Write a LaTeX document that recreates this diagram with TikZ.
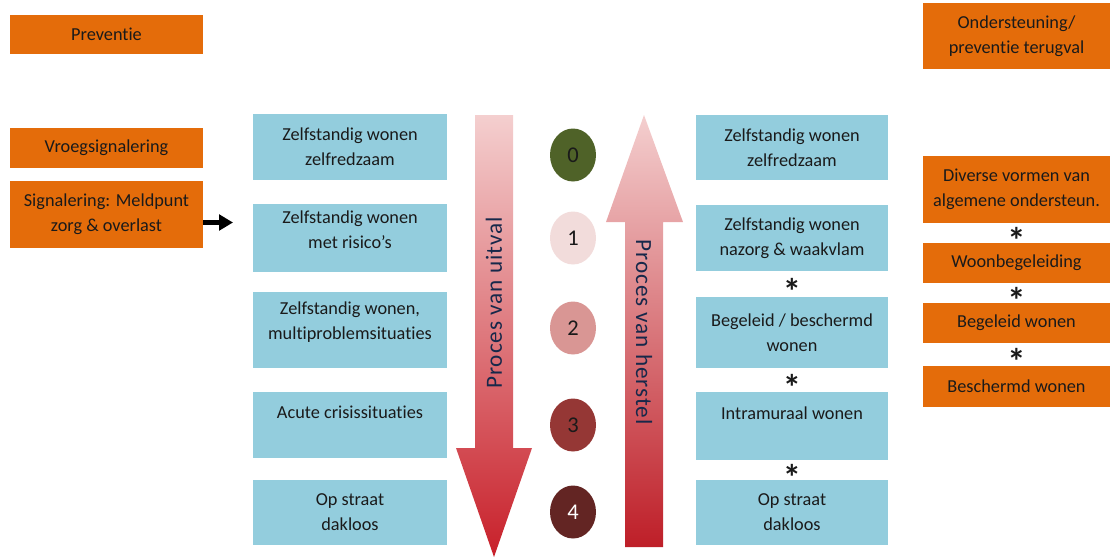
\documentclass[tikz,border=0pt]{standalone}
\usepackage{fontspec}
\setmainfont{Carlito}[Ligatures=NoCommon]
\newfontfamily\procesfont[LetterSpace=4,Ligatures=NoCommon]{Carlito}
\usetikzlibrary{shapes.geometric,arrows.meta,calc}

\definecolor{oranje}{HTML}{E46C0A}
\definecolor{lichtblauw}{HTML}{93CDDD}
\definecolor{tekst}{HTML}{1A1A1A}
\definecolor{navy}{HTML}{17284A}
\definecolor{fase0}{HTML}{4F6228}
\definecolor{fase1}{HTML}{F2DCDB}
\definecolor{fase2}{HTML}{D99694}
\definecolor{fase3}{HTML}{953735}
\definecolor{fase4}{HTML}{632523}
\definecolor{roze}{HTML}{F4CFCF}
\definecolor{rozemid}{HTML}{E9A3A5}
\definecolor{rood}{HTML}{C8202A}

\begin{document}
\begin{tikzpicture}[x=0.25mm,y=-0.25mm,
                    every node/.style={font=\fontsize{13}{17.7}\selectfont,text=tekst},
                    oranjebox/.style={fill=oranje,align=center,inner sep=0pt},
                    blauwbox/.style={fill=lichtblauw,align=center,inner sep=0pt,minimum width=48.5mm},
                    fase/.style={ellipse,minimum width=11.5mm,minimum height=13.25mm,inner sep=0pt,font=\fontsize{16}{16}\selectfont},
                    ster/.style={font=\fontsize{26}{26}\selectfont\bfseries,inner sep=0pt,text height=18.5pt,text depth=-8.5pt,yshift=-5pt},
                    proces/.style={font=\procesfont\fontsize{16.5}{18}\selectfont,text=navy}
]
\useasboundingbox (0,0) rectangle (1110,557);

% grote pijlen
\shade[top color=roze,middle color=rozemid,bottom color=rood]
  (475,115) -- (513,115) -- (513,448) -- (532,448) -- (494,557) -- (456,448) -- (475,448) -- cycle;
\shade[top color=roze,middle color=rozemid,bottom color=rood!95!black]
  (644,115) -- (683,222) -- (663,222) -- (663,547) -- (625,547) -- (625,222) -- (606,222) -- cycle;
\node[proces,rotate=90] (uitval) at (494,303) {Proces van uitval};
\node[proces,rotate=-90] (herstel) at (644,332) {Proces van herstel};

% links
\node[oranjebox,minimum width=48.25mm,minimum height=9.75mm] (preventie) at (106.5,34.5) {Preventie};
\node[oranjebox,minimum width=48.25mm,minimum height=10mm] (vroeg) at (106.5,148) {Vroegsignalering};
\node[oranjebox,minimum width=48.25mm,minimum height=16.75mm] (meldpunt) at (106.5,214.5) {Signalering: Meldpunt\\zorg \& overlast};
\coordinate (pijl) at (233,222.5);
\draw[line width=3.2pt,-{Triangle[length=3.5mm,width=3.9mm]}] (meldpunt.east |- pijl) -- (pijl);

\node[blauwbox,minimum height=16.5mm] (l0) at (350,147) {Zelfstandig wonen\\zelfredzaam};
\node[blauwbox,minimum height=17mm] (l1) at (350,238) {Zelfstandig wonen\\met risico's\\[-6pt]\mbox{}};
\node[blauwbox,minimum height=19mm] (l2) at (350,330) {Zelfstandig wonen,\\multiproblemsituaties\\[-4pt]\mbox{}};
\node[blauwbox,minimum height=16.5mm] (l3) at (350,425) {Acute crisissituaties\\\mbox{}};
\node[blauwbox,minimum height=16.25mm] (l4) at (350,512.5) {Op straat\\dakloos};

% fasen
\node[fase,fill=fase0] (f0) at (573,155) {0};
\node[fase,fill=fase1] (f1) at (573,238) {1};
\node[fase,fill=fase2] (f2) at (573,328) {2};
\node[fase,fill=fase3] (f3) at (573,425) {3};
\node[fase,fill=fase4,text=white] (f4) at (573,512) {4};

% rechts
\node[blauwbox,minimum width=48mm,minimum height=16.25mm] (r0) at (792,147.5) {Zelfstandig wonen\\zelfredzaam};
\node[blauwbox,minimum width=48mm,minimum height=16.5mm] (r1) at (792,238) {Zelfstandig wonen\\nazorg \& waakvlam};
\node[blauwbox,minimum width=48mm,minimum height=17.75mm] (r2) at (792,332.5) {Begeleid / beschermd\\wonen};
\node[blauwbox,minimum width=48mm,minimum height=17mm] (r3) at (792,426) {Intramuraal wonen\\\mbox{}};
\node[blauwbox,minimum width=48mm,minimum height=16.25mm] (r4) at (792,512.5) {Op straat\\dakloos};
\node[ster] (s1) at ($(r1.south)!0.5!(r2.north)$) {*};
\node[ster] (s2) at ($(r2.south)!0.5!(r3.north)$) {*};
\node[ster] (s3) at ($(r3.south)!0.5!(r4.north)$) {*};

\node[oranjebox,minimum width=46.75mm,minimum height=16.5mm] (steun) at (1016.5,36) {Ondersteuning/\\preventie terugval};
\node[oranjebox,minimum width=46.75mm,minimum height=16.75mm] (divers) at (1016.5,189.5) {Diverse vormen van\\algemene ondersteun.};
\node[oranjebox,minimum width=46.75mm,minimum height=10mm] (woonbeg) at (1016.5,263) {Woonbegeleiding};
\node[oranjebox,minimum width=46.75mm,minimum height=10mm] (begeleid) at (1016.5,323) {Begeleid wonen};
\node[oranjebox,minimum width=46.75mm,minimum height=10.25mm] (beschermd) at (1016.5,386.5) {Beschermd wonen};
\node[ster] (s4) at ($(divers.south)!0.5!(woonbeg.north)$) {*};
\node[ster] (s5) at ($(woonbeg.south)!0.5!(begeleid.north)$) {*};
\node[ster] (s6) at ($(begeleid.south)!0.5!(beschermd.north)$) {*};
\end{tikzpicture}
\end{document}
